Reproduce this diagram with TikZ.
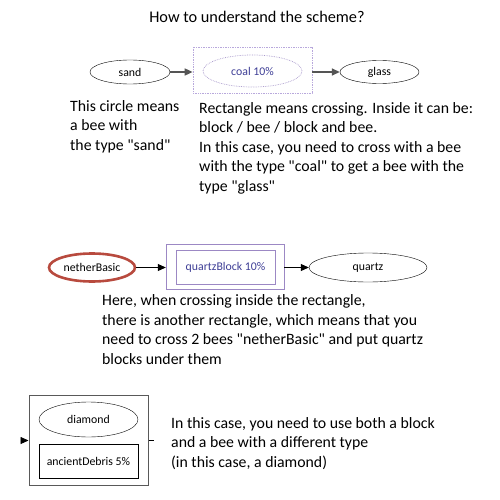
\documentclass[tikz,border=0pt]{standalone}
\usepackage{fontspec}
\setmainfont{Carlito}
\usetikzlibrary{arrows.meta,shapes.geometric}
\definecolor{arrgray}{HTML}{555555}
\definecolor{lav}{HTML}{A898CC}
\definecolor{lavbox}{HTML}{B8A8DC}
\definecolor{purp}{HTML}{9C88C4}
\definecolor{purptext}{HTML}{3E3E96}
\definecolor{redb}{HTML}{B84A3E}
\newcommand{\dq}{\textquotedbl}
\tikzset{
  bodytext/.style={anchor=base west, inner sep=0pt, align=left, font=\fontsize{15.8}{19.5}\selectfont},
  lbl/.style={font=\fontsize{11.8}{13}\selectfont},
  bee/.style={draw=black, ellipse, inner sep=0pt, lbl},
  tip/.style={-{Triangle[length=8pt,width=7pt]}},
}
\begin{document}
\begin{tikzpicture}[x=1pt,y=-1pt]
\useasboundingbox (0,0) rectangle (500,500);
\fill[white] (0,0) rectangle (500,500);
% title
\node[font=\fontsize{16.3}{19.5}\selectfont, inner sep=0pt] (title) at (257,17) {How to understand the scheme?};
% row 1
\node[bee, minimum width=80pt, minimum height=24pt] (sand) at (130,72) {sand};
\node[draw=lavbox, densely dotted, line width=0.7pt, minimum width=119pt, minimum height=46pt, inner sep=0pt] (coalbox) at (252.5,70) {};
\node[draw=lav, densely dotted, line width=0.7pt, ellipse, minimum width=99pt, minimum height=32pt, inner sep=0pt, lbl, text=purptext] (coal) at (252.5,71) {coal 10\%};
\node[bee, minimum width=79pt, minimum height=23pt] (glass) at (379.5,72) {glass};
\draw[tip, arrgray, line width=1.6pt] (sand) -- (sand -| coalbox.west);
\draw[tip, arrgray, line width=1.6pt] (coalbox.east |- glass) -- (glass);
\node[bodytext] (t1) at (70,150) {This circle means\\a bee with\\the type \dq sand\dq};
\node[bodytext] (t2) at (199,191) {Rectangle means crossing. Inside it can be:\\block / bee / block and bee.\\In this case, you need to cross with a bee\\with the type \dq coal\dq{} to get a bee with the\\type \dq glass\dq};
% row 2
\node[draw=redb, line width=2.6pt, ellipse, minimum width=86pt, minimum height=28pt, inner sep=0pt, lbl] (nether) at (92,267.5) {netherBasic};
\node[draw=purp, minimum width=118pt, minimum height=45pt, inner sep=0pt] (qouter) at (225,266.5) {};
\node[draw=purp, minimum width=99pt, minimum height=34pt, inner sep=0pt, lbl, text=purptext] (qinner) at (225.5,267) {quartzBlock 10\%};
\node[bee, minimum width=118pt, minimum height=29pt] (quartz) at (368,267.5) {quartz};
\draw[tip, line width=0.8pt] (nether) -- (nether -| qouter.west);
\draw[tip, line width=0.8pt] (qouter.east |- quartz) -- (quartz);
\node[bodytext] (t3) at (102,364) {Here, when crossing inside the rectangle,\\there is another rectangle, which means that you\\need to cross 2 bees \dq netherBasic\dq{} and put quartz\\blocks under them};
% row 3
\node[draw=black!65, line width=1pt, minimum width=119pt, minimum height=90pt, inner sep=0pt] (dbox) at (88.5,440) {};
\node[bee, minimum width=99pt, minimum height=35pt] (diamond) at (88.5,419.5) {diamond};
\node[draw=black, minimum width=99pt, minimum height=34pt, inner sep=0pt, lbl] (debris) at (88.5,461) {ancientDebris 5\%};
\coordinate (din) at (21,440.5);
\coordinate (dout) at (154,440);
\draw[tip, line width=0.8pt] (din) -- (dbox.west |- din);
\draw[line width=0.8pt] (dbox.east |- dout) -- (dout);
\node[bodytext] (t4) at (171,467) {In this case, you need to use both a block\\and a bee with a different type\\(in this case, a diamond)};
\end{tikzpicture}
\end{document}
